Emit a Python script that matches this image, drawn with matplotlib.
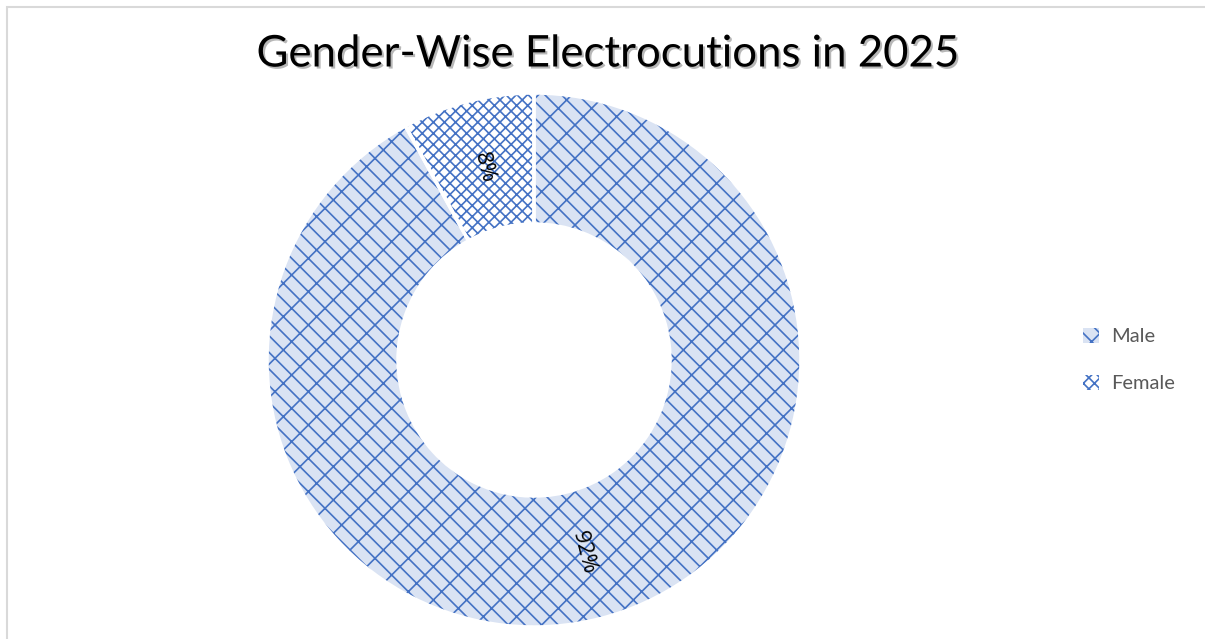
import matplotlib.pyplot as plt
import matplotlib.patheffects as pe
from matplotlib.patches import Rectangle, Patch, Wedge

# data
labels = ["Male", "Female"]
shares = [92, 8]
pct_labels = ["92%", "8%"]

face = ["#DAE3F3", "#FFFFFF"]
hatches = ["\\x", "xxx"]
blue = "#4472C4"

plt.rcParams["font.family"] = ["Lato", "DejaVu Sans"]
plt.rcParams["hatch.linewidth"] = 1.2

fig = plt.figure(figsize=(12.05, 6.39), dpi=100)

# outer chart border
fig.patches.append(Rectangle((6.5 / 1205, -0.05), 1.2, 1 - 6.5 / 639 + 0.05,
                             transform=fig.transFigure, fill=False,
                             edgecolor="#D9D9D9", linewidth=1.5))

ax = fig.add_axes([(534 - 270) / 1205, (639 - 360 - 270) / 639,
                   540 / 1205, 540 / 639])
wedges, texts = ax.pie(shares, startangle=90, counterclock=False,
                       radius=267 / 270, colors=face,
                       wedgeprops=dict(width=131 / 270, edgecolor=blue,
                                       linewidth=0),
                       labels=pct_labels, labeldistance=0.745,
                       textprops=dict(fontsize=16, color="black",
                                      family=["Open Sans", "DejaVu Sans"]))
for w, h in zip(wedges, hatches):
    w.set_hatch(h)
    # white slice border drawn on top
    ax.add_patch(Wedge(w.center, w.r, w.theta1, w.theta2, width=w.width,
                       fill=False, edgecolor="white", linewidth=2.5,
                       zorder=w.get_zorder() + 0.5))
for t in texts:
    t.set_rotation(-75.6)
    t.set_ha("center")
    t.set_va("center")
    t.set_zorder(5)
ax.set_xlim(-1, 1)
ax.set_ylim(-1, 1)
ax.set_aspect("equal")

fig.text(608 / 1205, 1 - 54 / 639, "Gender-Wise Electrocutions in 2025",
         ha="center", va="center", fontsize=31.5, color="black",
         path_effects=[pe.SimplePatchShadow(offset=(1.5, -1.5),
                                            shadow_rgbFace="#888888",
                                            alpha=0.6),
                       pe.Normal()])

handles = [Patch(facecolor=face[i], hatch=hatches[i], edgecolor=blue,
                 linewidth=0, label=labels[i]) for i in range(2)]
leg = fig.legend(handles=handles, loc="center left",
                 bbox_to_anchor=(1065 / 1205, 1 - 360 / 639), frameon=False,
                 fontsize=14.5, labelspacing=1.45, handlelength=0.8,
                 handleheight=0.8, handletextpad=0.6)
for t in leg.get_texts():
    t.set_color("#595959")

fig.savefig("out.png", dpi=100)
